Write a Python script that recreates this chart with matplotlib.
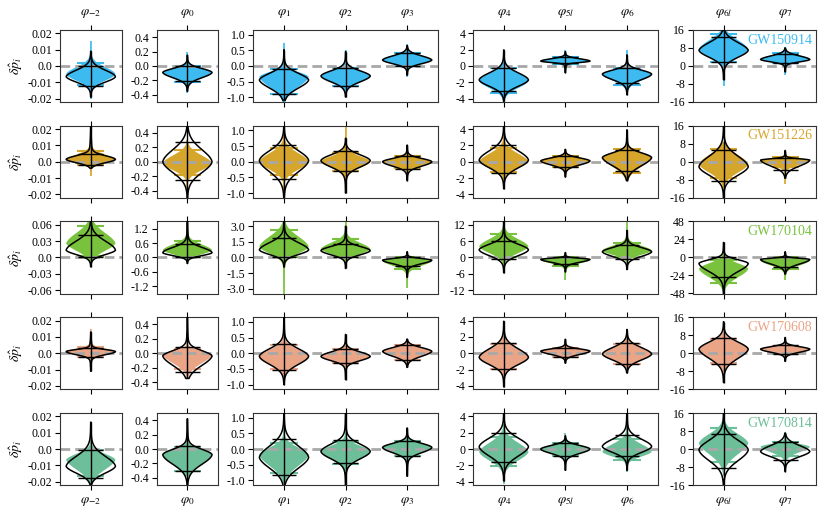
import numpy as np
import matplotlib
matplotlib.use('Agg')
import matplotlib.pyplot as plt

plt.rcParams['font.family'] = ['Liberation Serif', 'DejaVu Serif']
plt.rcParams['mathtext.fontset'] = 'stix'
plt.rcParams['axes.unicode_minus'] = False

# ---------------- data ----------------
param_labels = [r'$\varphi_{-2}$', r'$\varphi_{0}$', r'$\varphi_{1}$', r'$\varphi_{2}$',
                r'$\varphi_{3}$', r'$\varphi_{4}$', r'$\varphi_{5l}$', r'$\varphi_{6}$',
                r'$\varphi_{6l}$', r'$\varphi_{7}$']
panel_groups = [[0], [1], [2, 3, 4], [5, 6, 7], [8, 9]]
events = ['GW150914', 'GW151226', 'GW170104', 'GW170608', 'GW170814']
event_colors = ['#3dbbf0', '#d6a52c', '#78c23e', '#eaa587', '#6cbf98']

yticks_std = [[-0.02, -0.01, 0.0, 0.01, 0.02], [-0.4, -0.2, 0.0, 0.2, 0.4],
              [-1.0, -0.5, 0.0, 0.5, 1.0], [-4, -2, 0, 2, 4], [-16, -8, 0, 8, 16]]
ylabels_std = [['-0.02', '-0.01', '0.0', '0.01', '0.02'], ['-0.4', '-0.2', '0.0', '0.2', '0.4'],
               ['-1.0', '-0.5', '0.0', '0.5', '1.0'], ['-4', '-2', '0', '2', '4'],
               ['-16', '-8', '0', '8', '16']]
yticks_wide = [[-0.06, -0.03, 0.0, 0.03, 0.06], [-1.2, -0.6, 0.0, 0.6, 1.2],
               [-3.0, -1.5, 0.0, 1.5, 3.0], [-12, -6, 0, 6, 12], [-48, -24, 0, 24, 48]]
ylabels_wide = [['-0.06', '-0.03', '0.0', '0.03', '0.06'], ['-1.2', '-0.6', '0.0', '0.6', '1.2'],
                ['-3.0', '-1.5', '0.0', '1.5', '3.0'], ['-12', '-6', '0', '6', '12'],
                ['-48', '-24', '0', '24', '48']]
ylim_std = [0.022, 0.5, 1.15, 4.4, 16]
ylim_wide = [0.066, 1.5, 3.45, 13.2, 48]

# each violin: [mode, lower bar, upper bar, lower end, upper end]
gw150914_ref = [[-0.0065, -0.012, 0.0, -0.019, 0.009], [-0.09, -0.21, 0.0, -0.35, 0.15],
                [-0.45, -0.88, -0.1, -1.1, 0.52], [-0.32, -0.63, -0.05, -0.99, 0.46],
                [0.19, 0.0, 0.41, -0.29, 0.65], [-1.7, -3.0, -0.3, -4.3, 1.96],
                [0.6, 0.33, 1.06, -0.8, 1.75], [-1.0, -2.1, -0.2, -3.5, 1.35],
                [7.0, 1.9, 12.8, -6.0, 15.7], [2.9, 1.2, 5.5, -2.5, 8.0]]
gw150914_fill = [[-0.005, -0.0115, 0.002, -0.020, 0.015], [-0.09, -0.22, 0.0, -0.37, 0.19],
                 [-0.35, -0.9, -0.1, -1.15, 0.75], [-0.32, -0.65, -0.05, -1.0, 0.5],
                 [0.2, 0.0, 0.42, -0.35, 0.7], [-1.8, -3.3, -0.3, -4.4, 2.0],
                 [0.6, 0.3, 1.1, -0.9, 1.9], [-1.0, -2.3, -0.2, -3.6, 1.96],
                 [7.5, 1.9, 14.3, -8.7, 16.0], [3.0, 1.2, 5.8, -3.9, 8.5]]

gw151226_ref = [[0.0014, -0.002, 0.005, -0.004, 0.024], [0.0, -0.25, 0.28, -0.53, 0.56],
                [0.04, -0.55, 0.55, -1.3, 1.3], [0.04, -0.3, 0.34, -1.0, 0.75],
                [0.0, -0.23, 0.17, -0.6, 0.53], [0.2, -1.35, 2.05, -3.3, 4.9],
                [0.1, -0.7, 0.7, -1.85, 1.5], [0.5, -1.15, 1.44, -2.3, 3.9],
                [-2.2, -8.4, 5.4, -17.0, 17.0], [0.7, -3.6, 1.7, -7.3, 5.0]]
gw151226_fill = [[0.001, -0.002, 0.0066, -0.009, 0.01], [-0.02, -0.18, 0.16, -0.37, 0.3],
                 [0.0, -0.41, 0.45, -1.0, 1.0], [0.0, -0.3, 0.28, -0.9, 1.18],
                 [0.0, -0.2, 0.17, -0.55, 0.5], [0.0, -1.23, 1.64, -3.0, 3.5],
                 [0.1, -0.7, 0.75, -1.8, 1.6], [0.5, -1.4, 1.5, -2.2, 3.0],
                 [-1.0, -7.3, 5.8, -15.0, 8.7], [0.5, -2.5, 2.0, -9.7, 4.5]]

gw170104_ref = [[0.0135, 0.0, 0.041, -0.017, 0.075], [0.2, 0.0, 0.55, -0.25, 1.7],
                [0.73, 0.0, 1.86, -0.9, 3.6], [0.66, 0.0, 1.3, -1.05, 3.0],
                [-0.26, -0.8, 0.0, -1.9, 0.55], [2.8, -0.7, 6.1, -5.6, 14.5],
                [-0.7, -2.4, 0.0, -5.2, 1.8], [2.1, -0.7, 4.6, -4.4, 9.9],
                [-8.0, -25.6, 0.0, -53.0, 20.0], [-2.7, -12.6, 0.0, -22.0, 7.6]]
gw170104_fill = [[0.026, 0.003, 0.058, -0.01, 0.075], [0.3, 0.02, 0.69, -0.2, 1.7],
                 [1.05, 0.0, 2.67, -3.5, 3.6], [0.8, 0.0, 1.8, -0.5, 3.5],
                 [-0.3, -1.1, 0.0, -2.9, 0.5], [4.0, 0.0, 8.5, -3.0, 14.5],
                 [-0.8, -3.0, 0.0, -8.4, 1.5], [2.5, 0.0, 5.4, -3.0, 13.2],
                 [-15.0, -34.0, -3.0, -53.0, 10.0], [-4.0, -14.8, 0.0, -30.0, 5.0]]

gw170608_ref = [[0.001, -0.002, 0.003, -0.011, 0.013], [-0.04, -0.26, 0.08, -0.35, 0.5],
                [-0.1, -0.52, 0.29, -1.0, 1.2], [-0.1, -0.32, 0.13, -0.84, 0.6],
                [0.06, -0.2, 0.26, -0.45, 0.45], [-0.5, -1.95, 1.2, -4.1, 3.9],
                [0.25, -0.4, 0.7, -1.2, 1.7], [-0.1, -1.3, 1.2, -2.4, 2.9],
                [1.8, -4.9, 7.0, -13.0, 14.0], [1.8, -0.4, 3.6, -3.6, 7.0]]
gw170608_fill = [[0.001, -0.002, 0.004, -0.011, 0.015], [-0.02, -0.22, 0.06, -0.35, 0.3],
                 [-0.1, -0.5, 0.25, -1.0, 0.9], [-0.1, -0.3, 0.13, -0.8, 0.55],
                 [0.06, -0.2, 0.25, -0.45, 0.45], [-0.5, -1.9, 1.1, -4.0, 3.0],
                 [0.25, -0.4, 0.7, -1.2, 1.5], [-0.1, -1.3, 1.1, -2.4, 2.5],
                 [1.8, -4.5, 6.5, -13.0, 12.0], [1.8, -0.4, 3.4, -3.6, 6.0]]

gw170814_ref = [[-0.0106, -0.0176, -0.0006, -0.0216, 0.0164], [-0.08, -0.3, 0.04, -0.54, 0.42],
                [-0.27, -0.84, 0.32, -1.27, 1.27], [-0.08, -0.46, 0.3, -1.27, 1.27],
                [0.05, -0.22, 0.26, -0.87, 0.67], [0.27, -1.6, 2.0, -3.9, 4.8],
                [0.0, -0.87, 0.7, -2.6, 1.6], [0.3, -0.87, 1.74, -2.6, 5.3],
                [-0.4, -8.3, 6.6, -17.0, 17.0], [-1.1, -4.9, 3.3, -10.0, 7.0]]
gw170814_fill = [[-0.0066, -0.0166, -0.0006, -0.022, 0.006], [-0.08, -0.3, 0.03, -0.38, 0.22],
                 [-0.19, -0.78, 0.19, -1.1, 0.9], [-0.08, -0.49, 0.22, -0.9, 0.8],
                 [0.05, -0.22, 0.26, -0.6, 0.6], [-0.35, -2.1, 1.5, -4.3, 3.0],
                 [0.0, -0.87, 0.79, -2.0, 1.95], [-0.33, -1.3, 1.2, -2.8, 3.0],
                 [2.6, -5.6, 9.3, -12.0, 17.0], [1.0, -3.0, 3.0, -8.0, 7.7]]

ref_rows = [gw150914_ref, gw151226_ref, gw170104_ref, gw170608_ref, gw170814_ref]
fill_rows = [gw150914_fill, gw151226_fill, gw170104_fill, gw170608_fill, gw170814_fill]
wide_rows = [False, False, True, False, False]


# ---------------- helpers ----------------
def violin_stats(v, n=400):
    mode, qlo, qhi, lo, hi = v
    y = np.linspace(lo, hi, n)
    sl = max(mode - qlo, 1e-9) / 1.645
    sr = max(qhi - mode, 1e-9) / 1.645
    z = np.where(y < mode, (y - mode) / sl, (y - mode) / sr)
    core = np.exp(-0.5 * z ** 2)
    tl = max(mode - lo, 1e-9) / 3.0
    tr = max(hi - mode, 1e-9) / 3.0
    d = np.where(y < mode, (mode - y) / tl, (y - mode) / tr)
    tail = 0.13 * np.exp(-d)
    vals = core + tail
    return dict(coords=y, vals=vals, mean=mode, median=mode, min=lo, max=hi)


# ---------------- layout ----------------
W, H = 830, 515
fig = plt.figure(figsize=(W / 100, H / 100), dpi=100)
left_px, right_px, gap_px = 60, 816, 35
unit = (right_px - left_px - gap_px * 4) / 10.0
row_tops = [30, 125.75, 221.5, 317.25, 413]
row_h = 72

for r in range(5):
    color = event_colors[r]
    wide = wide_rows[r]
    x0 = left_px
    for g, idxs in enumerate(panel_groups):
        n = len(idxs)
        wpx = unit * n
        ax = fig.add_axes([x0 / W, 1 - (row_tops[r] + row_h) / H, wpx / W, row_h / H])
        x0 += wpx + gap_px
        pos = list(range(n))
        fills = [violin_stats(fill_rows[r][i]) for i in idxs]
        refs = [violin_stats(ref_rows[r][i]) for i in idxs]

        pf = ax.violin(fills, positions=pos, widths=0.8, showextrema=False)
        for b in pf['bodies']:
            b.set_facecolor(color)
            b.set_edgecolor('none')
            b.set_alpha(1.0)
            b.set_zorder(2)
        for k, i in enumerate(idxs):
            m, qlo, qhi, lo, hi = fill_rows[r][i]
            ax.vlines(k, lo, hi, color=color, lw=1.2, zorder=2.1)
            ax.hlines([qlo, qhi], k - 0.22, k + 0.22, color=color, lw=1.5, zorder=2.2)

        ax.axhline(0, color='#a8a8a8', lw=2.0, ls=(0, (3.5, 1.8)), zorder=2.5)

        pr = ax.violin(refs, positions=pos, widths=0.8, showextrema=False)
        for b in pr['bodies']:
            b.set_facecolor('none')
            b.set_edgecolor('black')
            b.set_linewidth(1.1)
            b.set_alpha(1.0)
            b.set_zorder(3)
        for k, i in enumerate(idxs):
            m, qlo, qhi, lo, hi = ref_rows[r][i]
            ax.vlines(k, lo, hi, color='black', lw=1.0, zorder=3.1)
            ax.hlines([qlo, qhi], k - 0.2, k + 0.2, color='black', lw=1.0, zorder=3.2)

        ax.set_xlim(-0.5, n - 0.5)
        lim = (ylim_wide if wide else ylim_std)[g]
        ax.set_ylim(-lim, lim)
        ax.set_yticks((yticks_wide if wide else yticks_std)[g])
        ax.set_yticklabels((ylabels_wide if wide else ylabels_std)[g])
        ax.set_xticks(pos)
        ax.set_xticklabels([param_labels[i] for i in idxs], fontsize=9.5)
        ax.tick_params(axis='x', top=True, bottom=True, labeltop=(r == 0),
                       labelbottom=(r == 4), direction='out', length=3.5, width=0.8,
                       pad=4)
        ax.tick_params(axis='y', direction='out', length=3.5, width=0.8,
                       labelsize=8.5, pad=2)
        for s in ax.spines.values():
            s.set_color('#333333')
            s.set_linewidth(0.8)
        if g == 0:
            ax.set_ylabel(r'$\delta\hat{p}_i$', fontsize=10, labelpad=2)
        if g == 4:
            ax.text(0.97, 0.86, events[r], transform=ax.transAxes, ha='right',
                    va='center', color=color, fontsize=10)

fig.savefig('out.png', dpi=100)
